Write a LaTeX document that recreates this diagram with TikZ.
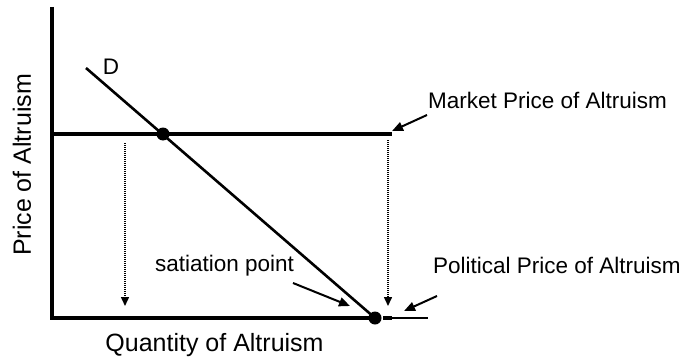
\documentclass[tikz,border=0pt]{standalone}
\usepackage{fontspec}
\setmainfont{Liberation Sans}
\usetikzlibrary{arrows.meta}
\begin{document}
\begin{tikzpicture}[x=1pt,y=-1pt,
  axis/.style={line width=4pt},
  thin/.style={line width=2.6pt},
  dotarrow/.style={line width=1.5pt,dash pattern=on 1pt off 1pt,-{Triangle[length=9pt,width=8pt]}},
  ptr/.style={line width=2pt,-{Triangle[length=11pt,width=9pt]}},
  lbl/.style={font=\fontsize{22.5}{25}\selectfont,inner sep=0pt},
  axlbl/.style={font=\fontsize{25}{28}\selectfont,inner sep=0pt},
  dot/.style={circle,fill=black,inner sep=0pt,minimum size=13pt}]
\useasboundingbox (0,0) rectangle (682,361);
\coordinate (top) at (52,7);
\coordinate (origin) at (52,318);
\coordinate (xend) at (377,318);
\draw[axis] (top) -- (origin) -- (xend);
\coordinate (pe1) at (383,318);
\coordinate (pe2) at (392,318);
\coordinate (pe3) at (428,318);
\draw[axis] (pe1) -- (pe2);
\draw[thin] (pe2) -- (pe3);
\coordinate (m0) at (52,134);
\coordinate (m1) at (392,134);
\draw[axis] (m0) -- (m1);
\coordinate (d0) at (86,68);
\coordinate (d1) at (375,318);
\draw[thin] (d0) -- (d1);
\node[dot] (e1) at (163,134) {};
\node[dot] (e2) at (375,318) {};
\node[lbl] (D) at (111,67) {D};
\coordinate (a1s) at (125,143);
\coordinate (a1e) at (125,306);
\draw[dotarrow] (a1s) -- (a1e);
\coordinate (a2s) at (388,140);
\coordinate (a2e) at (388,306);
\draw[dotarrow] (a2s) -- (a2e);
\node[lbl,anchor=west] (mp) at (428,100) {Market Price of Altruism};
\coordinate (mpa) at (427,115);
\coordinate (mpb) at (392,131);
\draw[ptr] (mpa) -- (mpb);
\node[lbl,anchor=west] (pp) at (433,265) {Political Price of Altruism};
\coordinate (ppa) at (437,296);
\coordinate (ppb) at (404,311);
\draw[ptr] (ppa) -- (ppb);
\node[lbl,anchor=west] (sp) at (155,266) {satiation point};
\coordinate (spa) at (293,283);
\coordinate (spb) at (350,306);
\draw[ptr] (spa) -- (spb);
\node[axlbl,rotate=90] (py) at (22,165) {Price of Altruism};
\node[axlbl] (qx) at (214.5,345) {Quantity of Altruism};
\end{tikzpicture}
\end{document}
